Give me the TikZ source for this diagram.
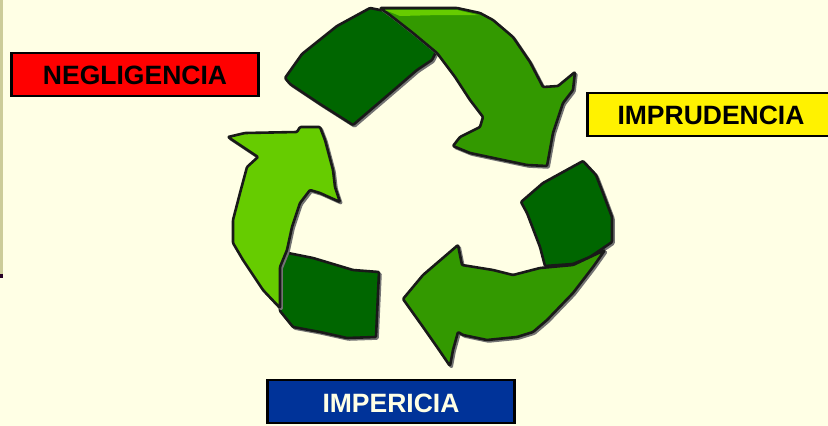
\documentclass[tikz,border=0pt]{standalone}
\usepackage{fontspec}
\setmainfont{Liberation Sans}
\definecolor{paper}{HTML}{FFFFE5}
\definecolor{barc}{HTML}{CCCC99}
\definecolor{darkg}{HTML}{006600}
\definecolor{midg}{HTML}{339900}
\definecolor{lightg}{HTML}{66CC00}
\definecolor{navy}{HTML}{003399}
\tikzset{
  label box/.style={draw=black,line width=2.6pt,minimum width=247.4pt,minimum height=43pt,inner sep=0pt,text height=20.5pt,text depth=0pt,font=\fontsize{26.5}{30}\selectfont\bfseries},
  blade/.style={draw=black!90,line width=2.6pt,line join=round,rounded corners=1pt},
  shade/.style={fill=black!55,draw=black!55,line width=2.4pt,line join=round,rounded corners=1pt,shift={(1.6pt,-1.6pt)}}
}
\newcommand{\bladeA}{(285,78) -- (302,54) -- (337,26) -- (370,8) -- (400,14) -- (420,30) -- (436,52) -- (432,60) -- (417,70) -- (395,89) -- (353,125) -- (320,104) -- (290,84) -- cycle}
\newcommand{\arrowA}{(380,8) -- (457,8) -- (480,13) -- (493,20) -- (513,37) -- (530,62) -- (543,87) -- (558,86) -- (575,72) -- (573,90) -- (563,103) -- (553,133) -- (547,166) -- (527,165) -- (503,160) -- (470,153) -- (453,146) -- (460,137) -- (480,127) -- (483,117) -- (470,100) -- (455,77) -- (437,53) -- (413,33) -- (390,15) -- cycle}
\newcommand{\bladeB}{(583,161) -- (596,175) -- (603,193) -- (612,217) -- (612,242) -- (590,257) -- (573,264) -- (545,266) -- (540,247) -- (527,213) -- (521,202) -- (543,183) -- cycle}
\newcommand{\arrowB}{(605,250) -- (593,267) -- (573,293) -- (547,320) -- (533,332) -- (517,337) -- (487,340) -- (463,335) -- (458,332) -- (453,350) -- (450,366) -- (437,347) -- (423,327) -- (403,299) -- (423,275) -- (458,245) -- (462,265) -- (493,270) -- (513,275) -- (540,268) -- (573,265) -- cycle}
\newcommand{\bladeC}{(283,252) -- (313,258) -- (353,270) -- (379,272) -- (376,337) -- (347,338) -- (320,332) -- (293,327) -- (280,311) -- (280,273) -- cycle}
\newcommand{\arrowC}{(228,137) -- (245,133) -- (297,132) -- (300,127) -- (320,127) -- (325,140) -- (333,170) -- (335,187) -- (340,202) -- (320,193) -- (310,190) -- (300,203) -- (292,227) -- (287,250) -- (280,267) -- (280,308) -- (263,290) -- (243,260) -- (233,243) -- (233,220) -- (240,193) -- (247,167) -- (258,157) -- (243,147) -- cycle}
\begin{document}
\begin{tikzpicture}[x=1pt,y=-1pt]
\useasboundingbox (0,0) rectangle (828,426);
\clip (0,0) rectangle (828,426);
\fill[paper] (0,0) rectangle (828,426);
\fill[barc] (0,0) rectangle (3,274);
\fill[black!70!violet] (0,274) rectangle (3,278);
% blades
\path[shade] \bladeA;
\path[blade,fill=darkg] \bladeA;
\path[shade] \bladeB;
\path[blade,fill=darkg] \bladeB;
\path[shade] \bladeC;
\path[blade,fill=darkg] \bladeC;
% arrows
\path[shade] \arrowA;
\path[blade,fill=midg] \arrowA;
\fill[lightg] (385,10) -- (457,10) -- (478,15) -- (440,15) -- (400,16) -- cycle;
\path[shade] \arrowB;
\path[blade,fill=midg] \arrowB;
\path[shade] \arrowC;
\path[blade,fill=lightg] \arrowC;
% labels
\node[label box,fill=red,text=black] (neg) at (135,74.5) {NEGLIGENCIA};
\node[label box,fill=yellow,text=black] (imp) at (711,114.5) {IMPRUDENCIA};
\node[label box,fill=navy,text=paper,text height=22pt] (per) at (391,401.5) {IMPERICIA};
\end{tikzpicture}
\end{document}
